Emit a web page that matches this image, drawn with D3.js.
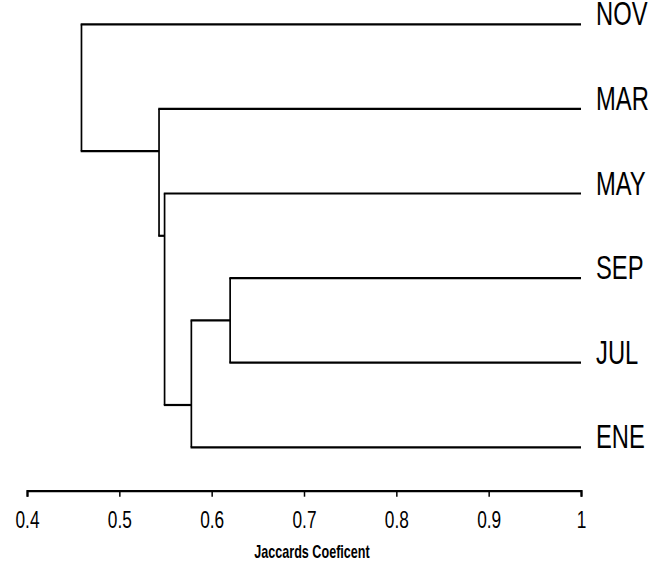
<!DOCTYPE html>
<html lang="en">
<head>
    <meta charset="UTF-8">
    <title>Jaccard dendrogram</title>
    <script src="https://cdn.jsdelivr.net/npm/d3@7/dist/d3.min.js"></script>
    <style>
        body { margin: 0; background: #ffffff; }
        text { font-family: "Liberation Sans", Arial, sans-serif; fill: #000; }
    </style>
</head>
<body>
    <div id="canvas"></div>

    <script>
        // leaves, top to bottom
        const leaves = ['NOV', 'MAR', 'MAY', 'SEP', 'JUL', 'ENE'];

        // merges: children, merge height (Jaccard), vertical position in leaf units
        const mergeIds      = ['n1', 'n2', 'n3', 'n4', 'n5'];
        const mergeLeft     = ['SEP', 'n1', 'MAY', 'MAR', 'NOV'];
        const mergeRight    = ['JUL', 'ENE', 'n2', 'n3', 'n4'];
        const mergeHeights  = [0.620, 0.578, 0.549, 0.543, 0.459];
        const mergePos      = [3.5, 4.5, 2.5, 1.5, 0.75];

        const tickValues = [0.4, 0.5, 0.6, 0.7, 0.8, 0.9, 1];
        const tickLabels = ['0.4', '0.5', '0.6', '0.7', '0.8', '0.9', '1'];
        const axisTitle = 'Jaccards Coeficent';

        const width = 663;
        const height = 562;
        const squeeze = 0.72; // narrow lettering of the original

        const x = d3.scaleLinear().domain([0.4, 1]).range([27, 581]);
        const y = d3.scaleLinear().domain([0, leaves.length - 1]).range([24.3, 447.3]);

        // node lookup: leaves sit at height 1
        const nodes = {};
        leaves.forEach((name, i) => { nodes[name] = { h: 1, pos: i }; });
        mergeIds.forEach((id, i) => { nodes[id] = { h: mergeHeights[i], pos: mergePos[i] }; });

        const svg = d3.select('#canvas')
            .append('svg')
            .attr('width', width)
            .attr('height', height);

        const links = svg.append('g').attr('fill', 'none').attr('stroke', '#000');

        mergeIds.forEach((id, i) => {
            const node = nodes[id];
            const a = nodes[mergeLeft[i]];
            const b = nodes[mergeRight[i]];

            links.append('line')
                .attr('x1', x(node.h)).attr('x2', x(node.h))
                .attr('y1', y(a.pos)).attr('y2', y(b.pos))
                .attr('stroke-width', 1.7);

            [a, b].forEach((c) => {
                links.append('line')
                    .attr('x1', x(node.h) - 0.8).attr('x2', x(c.h))
                    .attr('y1', y(c.pos)).attr('y2', y(c.pos))
                    .attr('stroke-width', 2.2);
            });
        });

        svg.append('g')
            .selectAll('text')
            .data(leaves)
            .enter()
            .append('text')
            .attr('transform', (d, i) => `translate(596, ${y(i) + 1}) scale(${squeeze}, 1)`)
            .attr('font-size', 33)
            .text((d) => d);

        const axis = d3.axisBottom(x)
            .tickValues(tickValues)
            .tickFormat((d, i) => tickLabels[i])
            .tickSize(6)
            .tickSizeOuter(6);

        const axisG = svg.append('g')
            .attr('transform', 'translate(0, 490.7)')
            .call(axis);

        axisG.select('.domain').attr('stroke', '#000').attr('stroke-width', 2.2);
        axisG.selectAll('.tick line').attr('stroke', '#000').attr('stroke-width', 1.5);
        axisG.selectAll('.tick text')
            .attr('font-family', '"Liberation Sans", Arial, sans-serif')
            .attr('font-size', 24)
            .attr('fill', '#000')
            .attr('y', 0)
            .attr('dy', 0)
            .attr('transform', `translate(0, 37.5) scale(${squeeze}, 1)`);

        svg.append('text')
            .attr('transform', `translate(${x(0.7) + 8}, 557.5) scale(${squeeze}, 1)`)
            .attr('text-anchor', 'middle')
            .attr('font-size', 17.5)
            .attr('font-weight', 'bold')
            .text(axisTitle);
    </script>
</body>
</html>
